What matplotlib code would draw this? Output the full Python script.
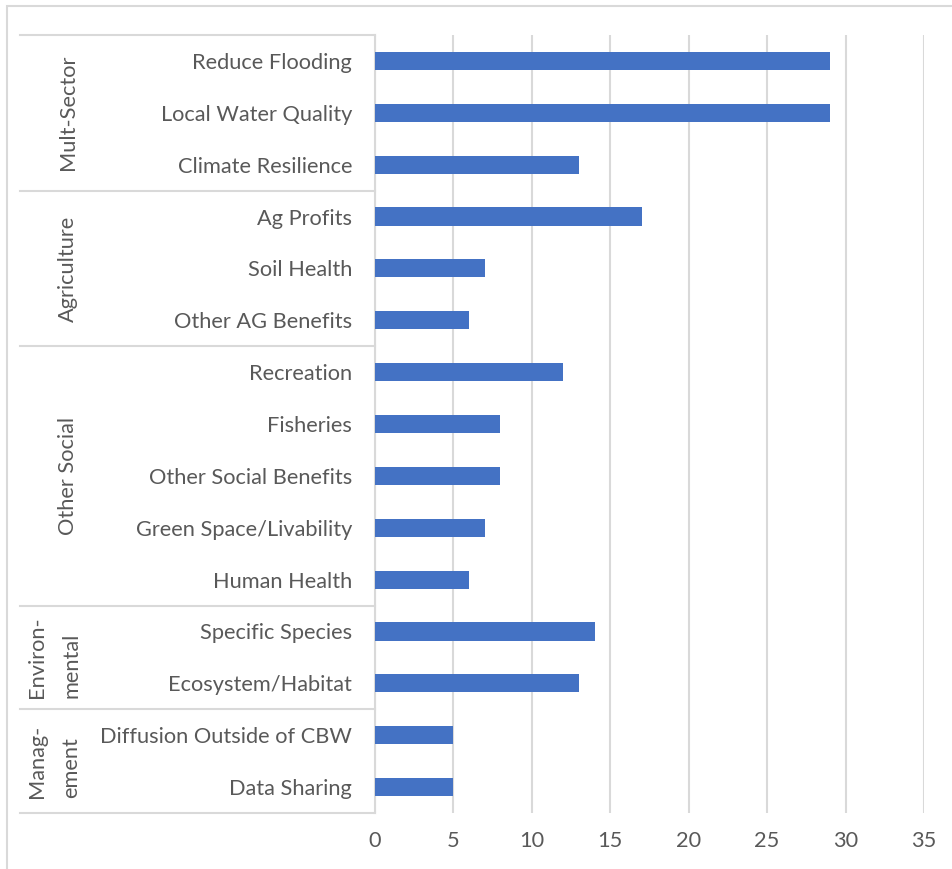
import numpy as np
import matplotlib
matplotlib.use("Agg")
import matplotlib.pyplot as plt
from matplotlib import transforms
from matplotlib.patches import Rectangle
from matplotlib.lines import Line2D

##################---------Data---------############################
categories = ["Reduce Flooding", "Local Water Quality", "Climate Resilience",
              "Ag Profits", "Soil Health", "Other AG Benefits",
              "Recreation", "Fisheries", "Other Social Benefits",
              "Green Space/Livability", "Human Health",
              "Specific Species", "Ecosystem/Habitat",
              "Diffusion Outside of CBW", "Data Sharing"]
counts = [29, 29, 13, 17, 7, 6, 12, 8, 8, 7, 6, 14, 13, 5, 5]
groups = ["Mult-Sector", "Agriculture", "Other Social", "Environ-\nmental", "Manag-\nement"]
group_sizes = [3, 3, 5, 2, 2]
x_ticks = [0, 5, 10, 15, 20, 25, 30, 35]

BAR = "#4472C4"
GRID = "#D9D9D9"
TXT = "#595959"
W, H = 952, 869
FS = 15.7

plt.rcParams['font.family'] = ['Lato', 'DejaVu Sans']

fig = plt.figure(figsize=(W / 100, H / 100), dpi=100)
# plot area in pixels: x 375..924, y 35..813
ax = fig.add_axes([375 / W, 1 - 813 / H, (924 - 375) / W, (813 - 35) / H])

y = np.arange(len(categories))
ax.barh(y, counts, height=0.35, color=BAR, zorder=3)
ax.set_ylim(len(categories) - 0.5, -0.5)
ax.set_xlim(0, 35)
ax.set_xticks(x_ticks)
ax.set_yticks(y)
ax.set_yticklabels(categories)
ax.tick_params(axis='y', length=0, pad=16.5, labelsize=FS, labelcolor=TXT)
ax.tick_params(axis='x', length=0, pad=13, labelsize=FS, labelcolor=TXT)
ax.grid(axis='x', color=GRID, linewidth=1.5, zorder=0)
for s in ["top", "right", "bottom"]:
    ax.spines[s].set_visible(False)
ax.spines["left"].set_color(GRID)
ax.spines["left"].set_linewidth(1.5)

# group brackets on the category axis
tr = transforms.blended_transform_factory(fig.transFigure, ax.transData)
bounds = np.concatenate([[0], np.cumsum(group_sizes)]) - 0.5
for b in bounds:
    fig.add_artist(Line2D([20 / W, 375 / W], [b, b], transform=tr,
                          color=GRID, linewidth=1.5))
for name, lo, hi in zip(groups, bounds[:-1], bounds[1:]):
    xpos = 54 / W if "\n" in name else 68 / W
    fig.text(xpos, (lo + hi) / 2, name, transform=tr, rotation=90,
             ha='center', va='center', fontsize=FS, color=TXT,
             linespacing=1.9, multialignment='left')

# chart area border
fig.add_artist(Rectangle((7 / W, -0.1), 1.2, 1 - 6 / H + 0.1,
                         transform=fig.transFigure, fill=False,
                         edgecolor=GRID, linewidth=1.5))

fig.savefig("out.png", dpi=100)
